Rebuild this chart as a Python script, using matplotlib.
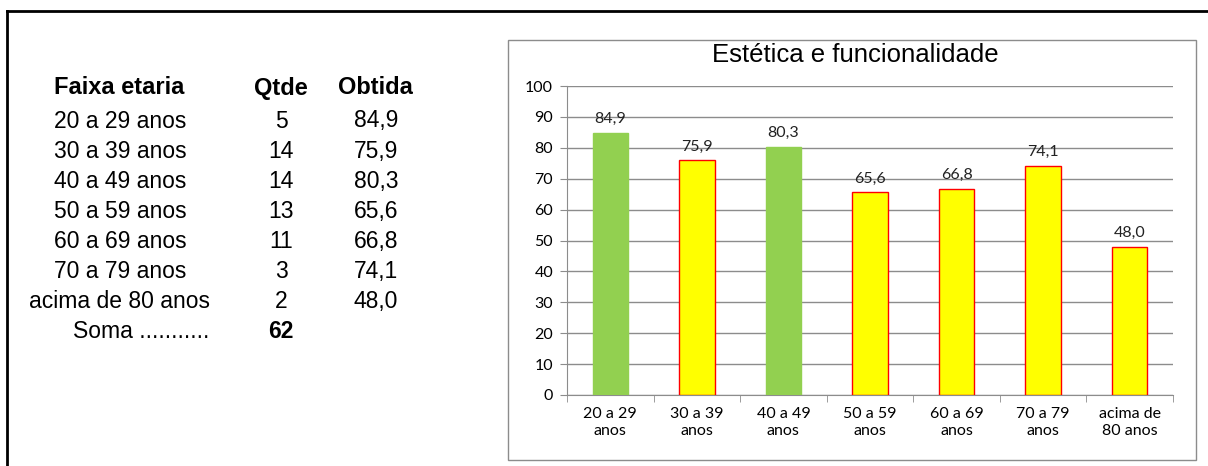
import numpy as np
import matplotlib.pyplot as plt
from matplotlib.patches import Rectangle
from matplotlib.lines import Line2D

# table on the left
faixas = ['20 a 29 anos', '30 a 39 anos', '40 a 49 anos', '50 a 59 anos',
          '60 a 69 anos', '70 a 79 anos', 'acima de 80 anos']
qtde = [5, 14, 14, 13, 11, 3, 2]
obtida = [84.9, 75.9, 80.3, 65.6, 66.8, 74.1, 48.0]
soma = 62

# chart
categorias = ['20 a 29\nanos', '30 a 39\nanos', '40 a 49\nanos', '50 a 59\nanos',
              '60 a 69\nanos', '70 a 79\nanos', 'acima de\n80 anos']
titulo = 'Estética e funcionalidade'
destaque = [True, False, True, False, False, False, False]

W, H = 1208, 466
fig = plt.figure(figsize=(W / 100, H / 100), dpi=100)

def fx(x):
    return x / W

def fy(y):
    return 1 - y / H

def fmt(v):
    return ('%.1f' % v).replace('.', ',')

# outer frame (left and top lines only)
fig.add_artist(Line2D([fx(7), fx(7)], [fy(11), 0], color='black', lw=2))
fig.add_artist(Line2D([fx(7), 1], [fy(11), fy(11)], color='black', lw=2))

# table text
tab_font = 'Liberation Sans'
fig.text(fx(119), fy(88), 'Faixa etaria', ha='center', va='center',
         fontsize=17, fontweight='bold', family=tab_font)
fig.text(fx(281), fy(88), 'Qtde', ha='center', va='center',
         fontsize=17, fontweight='bold', family=tab_font)
fig.text(fx(375), fy(88), 'Obtida', ha='center', va='center',
         fontsize=17, fontweight='bold', family=tab_font)
for i, (f, q, o) in enumerate(zip(faixas, qtde, obtida)):
    y = 121 + i * 30.1
    fig.text(fx(120), fy(y), f, ha='center', va='center', fontsize=16.5, family=tab_font)
    fig.text(fx(281), fy(y), str(q), ha='center', va='center', fontsize=16.5, family=tab_font)
    fig.text(fx(376), fy(y), fmt(o), ha='center', va='center', fontsize=16.5, family=tab_font)
fig.text(fx(73), fy(331), 'Soma ...........', ha='left', va='center',
         fontsize=16.5, family=tab_font)
fig.text(fx(281), fy(331), str(soma), ha='center', va='center',
         fontsize=16.5, fontweight='bold', family=tab_font)

# chart border
fig.add_artist(Rectangle((fx(508), fy(460)), fx(1196 - 508), (460 - 40) / H,
                         fill=False, edgecolor='#8c8c8c', lw=1))

ax = fig.add_axes([fx(567), fy(395), fx(1173 - 567), (395 - 86) / H])
x = np.arange(len(categorias))
cores = ['#92D050' if d else '#FFFF00' for d in destaque]
bordas = ['#92D050' if d else '#FF0000' for d in destaque]
bars = ax.bar(x, obtida, width=0.41, color=cores, edgecolor=bordas, linewidth=1, zorder=3)

chart_font = 'Lato'
fs = 11.5
for xi, v in zip(x, obtida):
    ax.annotate(fmt(v), (xi, v), xytext=(0, 10), textcoords='offset points',
                ha='center', va='center', fontsize=fs, family=chart_font, color='#222222')

ax.set_xlim(-0.5, len(categorias) - 0.5)
ax.set_ylim(0, 100)
ax.set_yticks(np.arange(0, 101, 10))
ax.yaxis.grid(True, color='#8c8c8c', lw=1, zorder=0)
ax.set_xticks(x)
ax.set_xticklabels(categorias, fontsize=fs, family=chart_font, linespacing=1.25)
ax.set_xticks(np.arange(-0.5, len(categorias), 1), minor=True)
ax.tick_params(axis='x', which='major', length=0, pad=9)
ax.tick_params(axis='x', which='minor', length=5, color='#8c8c8c')
ax.tick_params(axis='y', length=5, color='#8c8c8c', pad=5)
for lab in ax.get_yticklabels():
    lab.set_fontsize(fs)
    lab.set_family(chart_font)
for s in ['top', 'right']:
    ax.spines[s].set_visible(False)
for s in ['left', 'bottom']:
    ax.spines[s].set_color('#8c8c8c')

fig.text(fx(855), fy(55), titulo, ha='center', va='center', fontsize=18.5, family=tab_font)

fig.savefig('out.png', dpi=100)
